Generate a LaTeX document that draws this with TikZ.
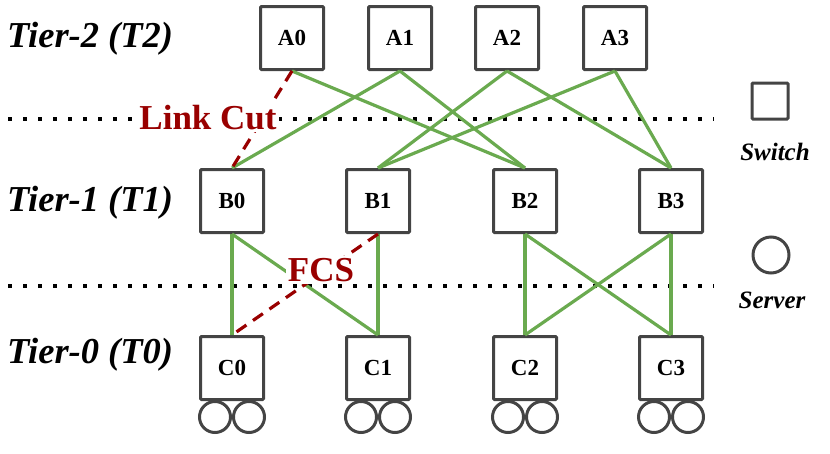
\documentclass[tikz,border=0pt]{standalone}
\usepackage{fontspec}
\setmainfont{Liberation Serif}
\definecolor{boxgray}{HTML}{444444}
\definecolor{lgreen}{HTML}{6AAA4F}
\definecolor{cutred}{HTML}{990000}
\begin{document}
\begin{tikzpicture}[x=1pt,y=-1pt,
  sw/.style={draw=boxgray,line width=3pt,minimum size=63pt,inner sep=0pt,rounded corners=1pt,font=\fontsize{23}{23}\selectfont\bfseries},
  srv/.style={draw=boxgray,line width=3pt,circle,minimum size=31pt,inner sep=0pt},
  link/.style={draw=lgreen,line width=3.2pt},
  cut/.style={draw=cutred,line width=3.2pt,dash pattern=on 12pt off 8pt},
  tier/.style={font=\fontsize{36.5}{36.5}\selectfont\bfseries\itshape,anchor=west,inner sep=0pt},
  cutlbl/.style={font=\fontsize{35}{35}\selectfont\bfseries,text=cutred,fill=white,inner sep=2pt},
  leg/.style={font=\fontsize{25}{25}\selectfont\bfseries\itshape,inner sep=0pt},
  dots/.style={line width=3.5pt,dash pattern=on 3.5pt off 11.5pt}]
\useasboundingbox (0,0) rectangle (830,453);
% dotted tier separators
\coordinate (d1s) at (8,119);
\coordinate (d1e) at (714,119);
\coordinate (d2s) at (8,286);
\coordinate (d2e) at (714,286);
\draw[dots] (d1s) -- (d1e);
\draw[dots] (d2s) -- (d2e);
% tier labels
\node[tier] (t2) at (7,39) {Tier-2 (T2)};
\node[tier] (t1) at (7,203) {Tier-1 (T1)};
\node[tier] (t0) at (7,355) {Tier-0 (T0)};
% switches
\foreach \n/\x in {0/292,1/400,2/507,3/615}{\node[sw] (A\n) at (\x,38) {A\n};}
\foreach \n/\x in {0/232,1/378,2/525,3/671}{\node[sw] (B\n) at (\x,201) {B\n};}
\foreach \n/\x in {0/232,1/378,2/525,3/671}{\node[sw] (C\n) at (\x,368) {C\n};
  \node[srv] (S\n a) at (\x-17,417) {};
  \node[srv] (S\n b) at (\x+17,417) {};}
% links tier2-tier1
\draw[link] (A0.south) -- (B2.north);
\draw[link] (A1.south) -- (B0.north);
\draw[link] (A1.south) -- (B2.north);
\draw[link] (A2.south) -- (B1.north);
\draw[link] (A2.south) -- (B3.north);
\draw[link] (A3.south) -- (B1.north);
\draw[link] (A3.south) -- (B3.north);
\draw[cut] (A0.south) -- (B0.north);
% links tier1-tier0
\draw[link] (B0.south) -- (C0.north);
\draw[link] (B0.south) -- (C1.north);
\draw[link] (B1.south) -- (C1.north);
\draw[link] (B2.south) -- (C2.north);
\draw[link] (B2.south) -- (C3.north);
\draw[link] (B3.south) -- (C2.north);
\draw[link] (B3.south) -- (C3.north);
\draw[cut] (B1.south) -- (C0.north);
% labels
\node[cutlbl] (lc) at (208,118) {Link Cut};
\node[cutlbl] (fcs) at (321,270) {FCS};
% legend
\node[draw=boxgray,line width=3pt,minimum size=36pt,inner sep=0pt,rounded corners=1pt] (legsw) at (770,101) {};
\node[leg] (legswt) at (775,152) {Switch};
\node[srv,minimum size=36pt] (legsv) at (771,255) {};
\node[leg] (legsvt) at (772,300) {Server};
\end{tikzpicture}
\end{document}
